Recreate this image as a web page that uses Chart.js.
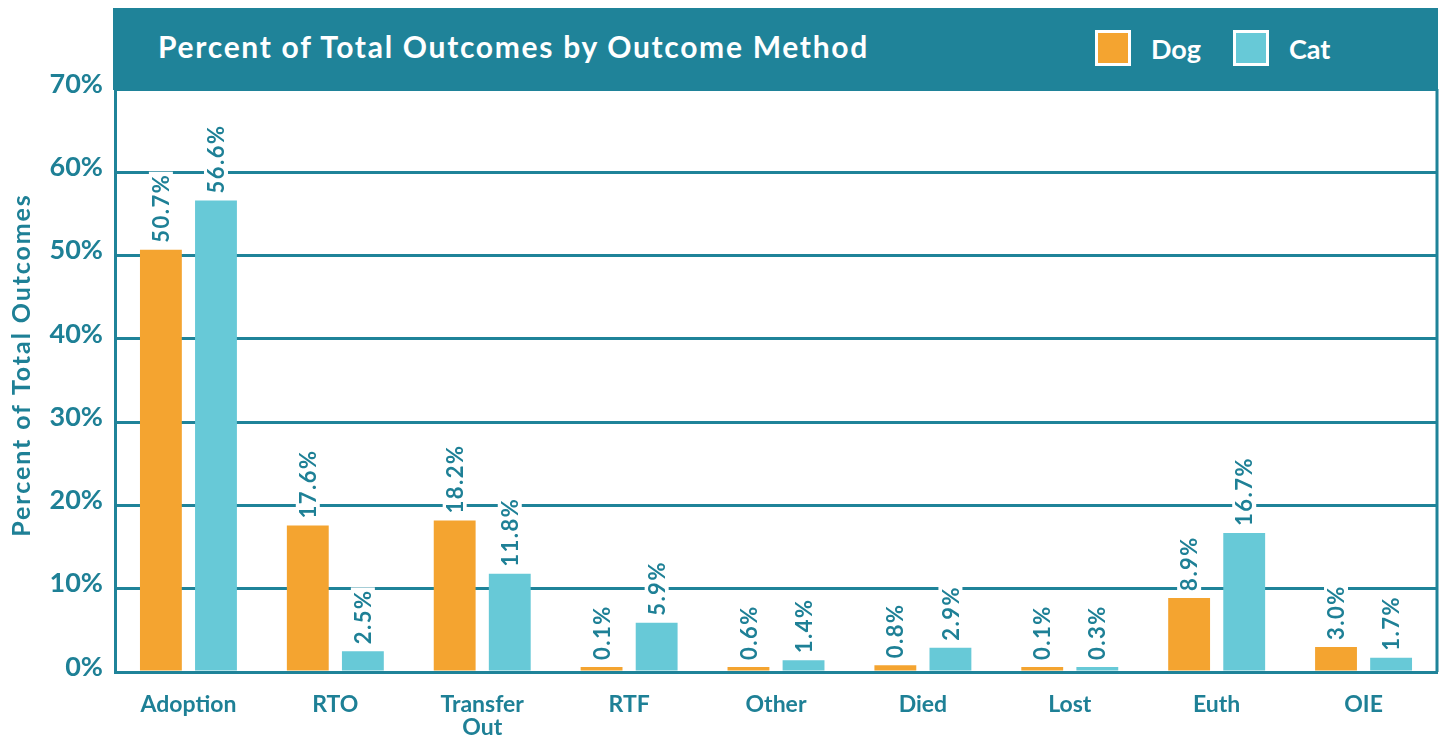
<!DOCTYPE html>
<html>
<head>
<meta charset="utf-8">
<script src="https://cdn.jsdelivr.net/npm/chart.js@4.4.1/dist/chart.umd.min.js"></script>
<style>
  body { margin: 0; background: #fff; font-family: Lato, sans-serif; }
  #wrap { position: relative; width: 1444px; height: 738px; }
  #header {
    position: absolute; left: 113px; top: 8px; width: 1325px; height: 82px;
    background: #1f8399; color: #fff; font-weight: 700;
  }
  #title { position: absolute; left: 45px; top: 20px; font-size: 30px; letter-spacing: 1.7px; }
  .leg { position: absolute; top: 22px; font-size: 27px; display: flex; align-items: center; }
  .box { width: 30px; height: 30px; border: 3px solid #fff; margin-right: 20px; }
  canvas { position: absolute; left: 0; top: 0; }
</style>
</head>
<body>
<div id="wrap">
  <canvas id="barChart" width="1444" height="738"></canvas>
  <div id="header">
    <div id="title">Percent of Total Outcomes by Outcome Method</div>
    <div class="leg" style="left:982px"><div class="box" style="background:#f4a430"></div>Dog</div>
    <div class="leg" style="left:1120px"><div class="box" style="background:#67c9d7"></div>Cat</div>
  </div>
</div>
<script>
const categories = ['Adoption', 'RTO', ['Transfer', 'Out'], 'RTF', 'Other', 'Died', 'Lost', 'Euth', 'OIE'];
const dogValues = [50.7, 17.6, 18.2, 0.1, 0.6, 0.8, 0.1, 8.9, 3.0];
const catValues = [56.6, 2.5, 11.8, 5.9, 1.4, 2.9, 0.3, 16.7, 1.7];
const yTicks = [0, 10, 20, 30, 40, 50, 60, 70];
const yTitle = 'Percent of Total Outcomes';

const teal = '#1f8399';
const textTeal = '#1e8096';

Chart.defaults.font.family = 'Lato, sans-serif';
Chart.defaults.font.weight = 'bold';

// value labels above bars, rotated, with a white patch behind them
const barLabels = {
  id: 'barLabels',
  afterDatasetsDraw(chart) {
    const ctx = chart.ctx;
    ctx.save();
    ctx.font = 'bold 22px Lato, sans-serif';
    ctx.letterSpacing = '1.5px';
    chart.data.datasets.forEach((ds, i) => {
      chart.getDatasetMeta(i).data.forEach((bar, j) => {
        const txt = ds.data[j].toFixed(1) + '%';
        const w = ctx.measureText(txt).width;
        ctx.save();
        ctx.translate(bar.x, bar.y - 7);
        ctx.rotate(-Math.PI / 2);
        ctx.fillStyle = '#fff';
        ctx.fillRect(-3, -12, w + 5, 24);
        ctx.fillStyle = textTeal;
        ctx.textAlign = 'left';
        ctx.textBaseline = 'middle';
        ctx.fillText(txt, 0, 1);
        ctx.restore();
      });
    });
    ctx.restore();
  }
};

// right edge of the frame and the y axis title
const frame = {
  id: 'frame',
  afterDraw(chart) {
    const a = chart.chartArea, ctx = chart.ctx;
    ctx.save();
    ctx.strokeStyle = teal;
    ctx.lineWidth = 3;
    ctx.beginPath();
    ctx.moveTo(a.right, a.top);
    ctx.lineTo(a.right, a.bottom);
    ctx.stroke();

    ctx.translate(22, 365);
    ctx.rotate(-Math.PI / 2);
    ctx.font = 'bold 25px Lato, sans-serif';
    ctx.letterSpacing = '1.9px';
    ctx.fillStyle = textTeal;
    ctx.textAlign = 'center';
    ctx.textBaseline = 'middle';
    ctx.fillText(yTitle, 0, 0);
    ctx.restore();
  }
};

new Chart(document.getElementById('barChart'), {
  type: 'bar',
  data: {
    labels: categories,
    datasets: [
      { label: 'Dog', data: dogValues, backgroundColor: '#f4a430' },
      { label: 'Cat', data: catValues, backgroundColor: '#67c9d7' }
    ]
  },
  options: {
    responsive: false,
    animation: false,
    layout: { padding: { top: 89, right: 7, left: 0, bottom: 0 } },
    datasets: { bar: { categoryPercentage: 0.75, barPercentage: 0.76, minBarLength: 5 } },
    plugins: { legend: { display: false }, tooltip: { enabled: false } },
    scales: {
      x: {
        grid: { display: false, drawTicks: false },
        border: { color: teal, width: 3 },
        ticks: { color: textTeal, font: { size: 23, weight: 'bold', lineHeight: 1.0 }, padding: 21, maxRotation: 0 },
        afterFit(scale) { scale.height = 66; }
      },
      y: {
        min: 0, max: 70,
        afterBuildTicks(scale) { scale.ticks = yTicks.map(v => ({ value: v })); },
        grid: { color: teal, lineWidth: 3, drawTicks: false },
        border: { color: teal, width: 3 },
        ticks: {
          color: textTeal, font: { size: 27, weight: 'bold' }, padding: 12, labelOffset: -5,
          callback: v => v + '%'
        },
        afterFit(scale) { scale.width = 115; }
      }
    }
  },
  plugins: [barLabels, frame]
});
</script>
</body>
</html>
